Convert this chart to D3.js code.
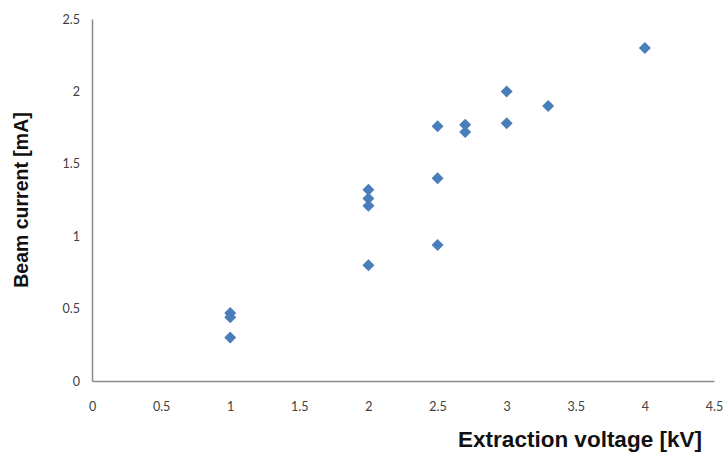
<!DOCTYPE html>
<html>
<head>
<meta charset="utf-8">
<script src="https://cdn.jsdelivr.net/npm/d3@7"></script>
<style>
html,body{margin:0;padding:0;background:#fff;}
svg{display:block;}
</style>
</head>
<body>
<svg id="chart" width="724" height="452"></svg>
<script>
const voltage = [1, 1, 1, 2, 2, 2, 2, 2.5, 2.5, 2.5, 2.7, 2.7, 3, 3, 3.3, 4];
const current = [0.47, 0.44, 0.30, 1.32, 1.26, 1.21, 0.80, 1.76, 1.40, 0.94, 1.77, 1.72, 2.00, 1.78, 1.90, 2.30];
const xTicks = [0, 0.5, 1, 1.5, 2, 2.5, 3, 3.5, 4, 4.5];
const yTicks = [0, 0.5, 1, 1.5, 2, 2.5];
const xTitle = "Extraction voltage [kV]";
const yTitle = "Beam current [mA]";

const svg = d3.select("#chart");
const mLeft = 92, mRight = 714, mTop = 19, mBottom = 381;
const x = d3.scaleLinear().domain([0, 4.5]).range([mLeft, mRight]);
const y = d3.scaleLinear().domain([0, 2.5]).range([mBottom, mTop]);

const tickFont = "Lato, 'Open Sans', sans-serif";

// axes
const xAxis = svg.append("g").attr("transform", `translate(0,${mBottom})`)
  .call(d3.axisBottom(x).tickValues(xTicks).tickSize(0).tickPadding(21).tickFormat(d3.format("")));
const yAxis = svg.append("g").attr("transform", `translate(${mLeft},0)`)
  .call(d3.axisLeft(y).tickValues(yTicks).tickSize(0).tickPadding(12).tickFormat(d3.format("")));
[xAxis, yAxis].forEach(g => {
  g.select(".domain").attr("stroke", "#8c8c8c").attr("stroke-width", 1.5);
  g.selectAll("text").attr("font-family", tickFont).attr("font-size", 12.5).attr("fill", "#404040");
});

// points
const sym = d3.symbol().type(d3.symbolSquare).size(72);
svg.append("g").selectAll("path").data(voltage.map((v, i) => [v, current[i]]))
  .join("path")
  .attr("d", sym)
  .attr("transform", d => `translate(${x(d[0])},${y(d[1])}) rotate(45)`)
  .attr("fill", "#4a7ebb");

// titles
svg.append("text")
  .attr("x", 580).attr("y", 447)
  .attr("text-anchor", "middle")
  .attr("font-family", "Liberation Sans, Arial, sans-serif")
  .attr("font-weight", "bold").attr("font-size", 22.5).attr("fill", "#111")
  .text(xTitle);
svg.append("text")
  .attr("transform", "translate(28,200) rotate(-90)")
  .attr("text-anchor", "middle")
  .attr("font-family", "Liberation Sans, Arial, sans-serif")
  .attr("font-weight", "bold").attr("font-size", 19.5).attr("fill", "#111")
  .text(yTitle);
</script>
</body>
</html>
